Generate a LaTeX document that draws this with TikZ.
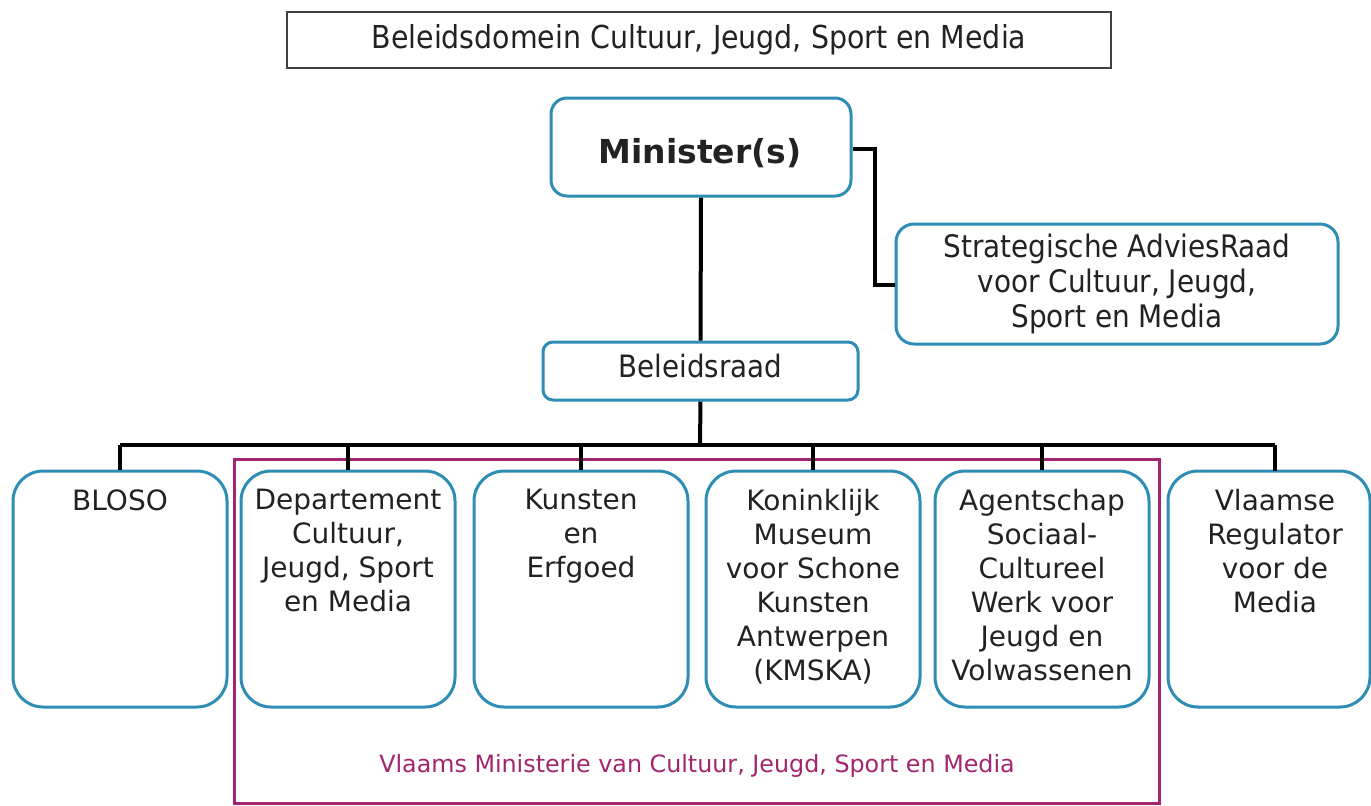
\documentclass[tikz,border=0pt]{standalone}
\usepackage{fontspec}
\setmainfont{DejaVu Sans}
\newfontfamily\condfont{DejaVu Sans Condensed}
\definecolor{boxblue}{HTML}{2E8DB4}
\definecolor{minmag}{HTML}{A3246F}
\definecolor{txt}{HTML}{222222}
\begin{document}
\begin{tikzpicture}[x=0.5pt,y=-0.5pt,
  every node/.style={text=txt},
  titlebox/.style={draw=black!75,line width=1pt,inner sep=0pt,minimum width=412pt,minimum height=28pt,font=\condfont\fontsize{15.8}{18}\selectfont},
  rbox/.style={draw=boxblue,line width=1.5pt,fill=white,inner sep=0pt},
  minbox/.style={rbox,rounded corners=8pt,minimum width=150pt,minimum height=49pt},
  sarbox/.style={rbox,rounded corners=9pt,minimum width=221pt,minimum height=60pt,align=center,font=\condfont\fontsize{15.5}{17.5}\selectfont},
  brbox/.style={rbox,rounded corners=5pt,minimum width=157.5pt,minimum height=29pt},
  unitbox/.style={rbox,rounded corners=15pt,minimum width=107pt,minimum height=118pt},
  unittext/.style={anchor=north,align=center,inner sep=0pt,font=\fontsize{14}{17}\selectfont},
  link/.style={draw=black,line width=2pt},
  ministerie/.style={draw=minmag,line width=1.5pt}
]
\useasboundingbox (0,0) rectangle (1371,805);

% title
\node[titlebox] (title) at (699,40) {Beleidsdomein Cultuur, Jeugd, Sport en Media};

% Ministerie frame
\draw[ministerie] (234,459) rectangle (1159,803);
\node[text=minmag,font=\fontsize{11.9}{14}\selectfont] (vm) at (697,766) {Vlaams Ministerie van Cultuur, Jeugd, Sport en Media};

% top nodes
\node[minbox] (min) at (701,147) {};
\node[inner sep=0pt,font=\bfseries\fontsize{16.5}{19}\selectfont] (mint) at (700,153) {Minister(s)};
\node[sarbox] (sar) at (1117,284) {Strategische AdviesRaad\\voor Cultuur, Jeugd,\\Sport en Media};
\node[brbox] (br) at (700.5,371) {};
\node[anchor=center,inner sep=0pt,font=\condfont\fontsize{15.4}{18}\selectfont] (brt) at (700.5,366) {Beleidsraad};

% unit boxes
\node[unitbox] (u1) at (120,589) {};
\node[unitbox] (u2) at (348,589) {};
\node[unitbox] (u3) at (581,589) {};
\node[unitbox] (u4) at (813,589) {};
\node[unitbox] (u5) at (1042,589) {};
\node[unitbox,minimum width=101pt] (u6) at (1269,589) {};

\coordinate (c1) at (120,471);
\coordinate (c6) at (1275,471);

\node[unittext] (t1) at (120,489) {BLOSO};
\node[unittext] (t2) at (348,489) {Departement\\Cultuur,\\Jeugd, Sport\\en Media};
\node[unittext] (t3) at (581,489) {Kunsten\\en\\Erfgoed};
\node[unittext] (t4) at (813,489) {Koninklijk\\Museum\\voor Schone\\Kunsten\\Antwerpen\\(KMSKA)};
\node[unittext] (t5) at (1042,489) {Agentschap\\Sociaal-\\Cultureel\\Werk voor\\Jeugd en\\Volwassenen};
\node[unittext] (t6) at (1275,489) {Vlaamse\\Regulator\\voor de\\Media};

% connectors
\draw[link] (min.south) -- (br.north);
\draw[link] ([yshift=-1pt]min.east) -| (875,285) -- (sar.west |- 0,285);
\coordinate (bus) at (700,445);
\draw[link] (br.south) -- (bus);
\draw[link] (c1 |- bus) -- (c6 |- bus);
\draw[link] (c1 |- bus) -- (u1.north);
\draw[link] (u2.north |- bus) -- (u2.north);
\draw[link] (u3.north |- bus) -- (u3.north);
\draw[link] (u4.north |- bus) -- (u4.north);
\draw[link] (u5.north |- bus) -- (u5.north);
\draw[link] (c6 |- bus) -- (c6);
\end{tikzpicture}
\end{document}
